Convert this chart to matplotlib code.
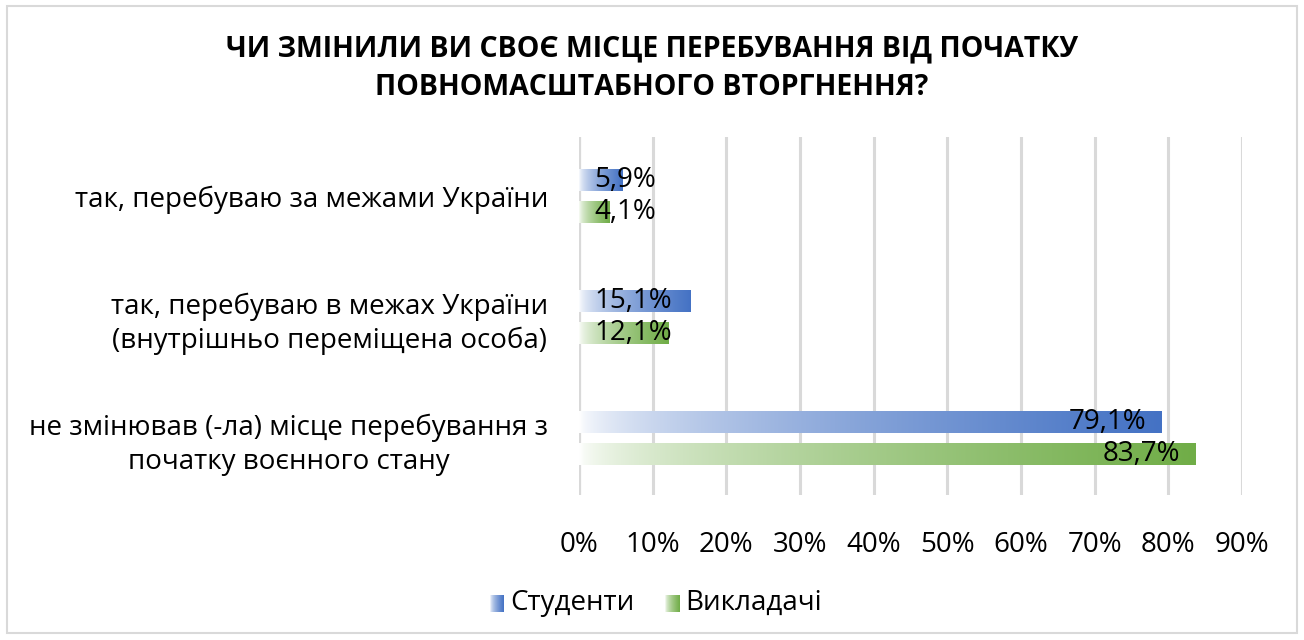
#!/usr/bin/env python3
"""Horizontal grouped bar chart with gradient bars (students vs lecturers)."""
import matplotlib

matplotlib.use("Agg")
import matplotlib.pyplot as plt
import numpy as np
from matplotlib.colors import LinearSegmentedColormap, to_rgb
from matplotlib.patches import Rectangle

plt.rcParams["font.family"] = ["Open Sans", "DejaVu Sans"]

TITLE = ("ЧИ ЗМІНИЛИ ВИ СВОЄ МІСЦЕ ПЕРЕБУВАННЯ ВІД ПОЧАТКУ\n"
         "ПОВНОМАСШТАБНОГО ВТОРГНЕННЯ?")
CATEGORIES = [
    "не змінював (-ла) місце перебування з\nпочатку воєнного стану",
    "так, перебуваю в межах України\n(внутрішньо переміщена особа)",
    "так, перебуваю за межами України",
]
SERIES = ["Студенти", "Викладачі"]
STUDENTS = [79.1, 15.1, 5.9]
TEACHERS = [83.7, 12.1, 4.1]
XTICKS = [0, 10, 20, 30, 40, 50, 60, 70, 80, 90]

BLUE = "#4472C4"
GREEN = "#70AD47"
BAR_H = 0.175
OFFSET = 0.133
FS = 20


def gradient_cmap(color):
    c = np.array(to_rgb(color))
    t = np.linspace(0, 1, 256) ** 0.6
    cols = (1 - t)[:, None] * np.ones(3) + t[:, None] * c
    return LinearSegmentedColormap.from_list("g", cols)


def grad_bar(ax, y, width, color):
    grad = np.linspace(0, 1, 256).reshape(1, -1)
    ax.imshow(grad, cmap=gradient_cmap(color), aspect="auto",
              extent=(0, width, y - BAR_H / 2, y + BAR_H / 2),
              interpolation="bicubic", zorder=2)


def label(ax, y, v):
    txt = f"{v:.1f}%".replace(".", ",")
    if v < 20:
        ax.text(2.1, y, txt, ha="left", va="center", fontsize=FS, zorder=3)
    else:
        ax.text(v - 2.1, y, txt, ha="right", va="center", fontsize=FS, zorder=3)


def main():
    fig = plt.figure(figsize=(13.04, 6.4), dpi=100)
    ax = fig.add_axes([579 / 1304, 1 - 495 / 640, (1242 - 579) / 1304, (495 - 137) / 640])

    ys = np.arange(len(CATEGORIES))
    for y, s, t in zip(ys, STUDENTS, TEACHERS):
        grad_bar(ax, y + OFFSET, s, BLUE)
        grad_bar(ax, y - OFFSET, t, GREEN)
        label(ax, y + OFFSET, s)
        label(ax, y - OFFSET, t)

    ax.set_xlim(0, 90)
    ax.set_ylim(-0.47, 2.49)
    ax.set_xticks(XTICKS)
    ax.set_xticklabels([f"{x}%" for x in XTICKS], fontsize=FS)
    ax.set_yticks(ys)
    ax.set_yticklabels(CATEGORIES, fontsize=FS, ha="right", multialignment="center",
                       linespacing=1.3)
    ax.tick_params(axis="y", length=0, pad=22)
    ax.tick_params(axis="x", length=0, pad=26)
    for sp in ax.spines.values():
        sp.set_visible(False)
    ax.grid(axis="x", color="#d9d9d9", linewidth=2.2, zorder=0)
    ax.axvline(0, color="#d0d0d0", linewidth=3, zorder=1)

    fig.text(0.5, 1 - 68 / 640, TITLE, ha="center", va="center",
             fontsize=20.5, fontweight="bold", linespacing=1.45)

    # legend
    for x0, name, col in [(490, SERIES[0], BLUE), (665, SERIES[1], GREEN)]:
        sq = fig.add_axes([x0 / 1304, 1 - 612 / 640, 14 / 1304, 17 / 640])
        sq.imshow(np.linspace(0, 1, 64).reshape(1, -1), cmap=gradient_cmap(col),
                  aspect="auto")
        sq.axis("off")
        fig.text((x0 + 20) / 1304, 1 - 603 / 640, name, ha="left", va="center",
                 fontsize=FS)

    fig.patches.append(Rectangle((7 / 1304, 7 / 640), 1290 / 1304, 627 / 640,
                                 transform=fig.transFigure, fill=False,
                                 edgecolor="#d9d9d9", linewidth=1.5))
    fig.savefig("out.png", dpi=100)


if __name__ == "__main__":
    main()
